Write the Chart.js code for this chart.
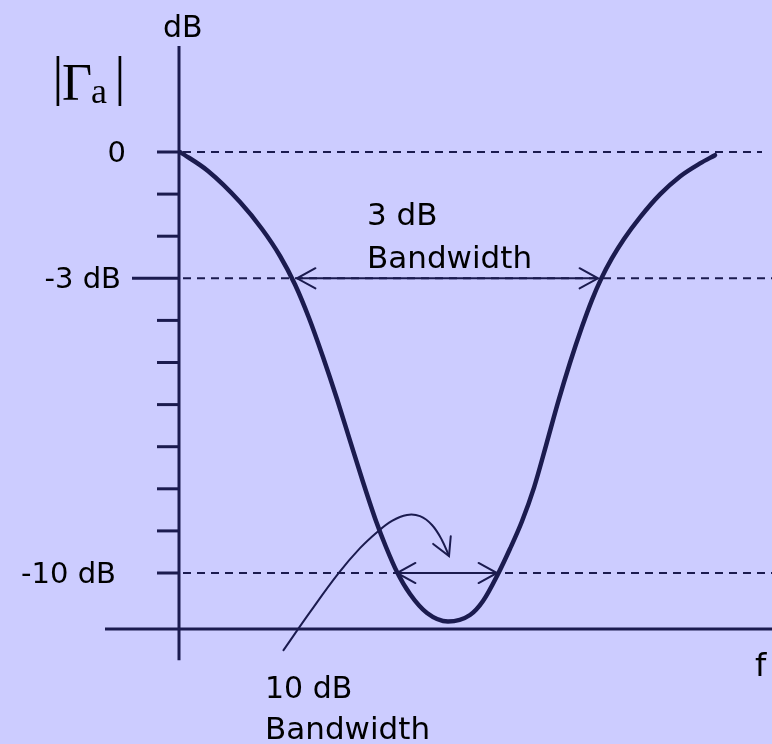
<!DOCTYPE html>
<html>
<head>
<meta charset="utf-8">
<script src="https://cdn.jsdelivr.net/npm/chart.js@4"></script>
<style>
  html, body { margin: 0; padding: 0; background: #ccccff; }
  #wrap { width: 772px; height: 744px; position: relative; }
</style>
</head>
<body>
<div id="wrap"><canvas id="c"></canvas></div>
<script>
// ---- data (frequency in arbitrary units, reflection in dB) ----
const curveF  = [1, 29, 61, 83, 101, 116, 130, 144, 158, 171, 184, 197, 207, 218, 231, 248, 269, 291, 304, 319, 331, 343, 355, 367, 379, 391, 403, 413, 422, 433, 445, 461, 481, 501, 521, 536];
const curveDb = [0, -0.451, -1.188, -1.829, -2.470, -3.147, -3.943, -4.869, -5.867, -6.855, -7.838, -8.765, -9.382, -9.976, -10.499, -10.950, -11.152, -10.998, -10.665, -10.024, -9.425, -8.770, -7.971, -6.974, -5.948, -5.007, -4.152, -3.511, -3.019, -2.523, -2.067, -1.553, -1.007, -0.580, -0.271, -0.076];

const tickDb = [0, -1, -2, -3, -4, -5, -6, -7, -8, -9, -10];
const tickLabelDb = [0, -3, -10];
const tickLabelText = ['0', '-3 dB', '-10 dB'];
const refLevelsDb = [0, -3, -10];
const refEndF = [583, 593, 593];

const bw3F = [118, 419];   // 3 dB bandwidth edges
const bw10F = [218, 318];  // 10 dB bandwidth edges

const pointerF  = [104, 131, 159, 181, 198, 213, 228, 241, 253, 263, 270];
const pointerDb = [-11.85, -10.93, -10.02, -9.41, -9.03, -8.76, -8.62, -8.65, -8.86, -9.22, -9.60];

const axisFloorDb = -11.33;

// ---- styling ----
const INK = '#1b1b4f';
const BG = '#ccccff';
const FONT = '"Comic Sans MS", "DejaVu Sans", sans-serif';
const SERIF = '"Liberation Serif", "DejaVu Serif", serif';

const pts = (xs, ys) => xs.map((x, i) => ({ x: x, y: ys[i] }));
const seg = (x1, y1, x2, y2, w, dash) => ({
  data: [{ x: x1, y: y1 }, { x: x2, y: y2 }],
  showLine: true, borderColor: INK, borderWidth: w, borderDash: dash || [],
  pointRadius: 0, tension: 0, borderCapStyle: 'butt'
});

const datasets = [];
// dashed reference levels
refLevelsDb.forEach((d, i) => datasets.push(seg(4, d, refEndF[i], d, 2, [8, 6])));
// axes
datasets.push(seg(-74, axisFloorDb, 593, axisFloorDb, 3));
datasets.push(seg(0, 2.52, 0, -12.07, 3));
// tick marks
tickDb.forEach(d => datasets.push(seg(d === -3 ? -47 : -22, d, 0, d, 3)));
// bandwidth arrows
datasets.push(seg(bw3F[0], -3, bw3F[1], -3, 2));
datasets.push(seg(bw10F[0], -10, bw10F[1], -10, 2));
// pointer curve
datasets.push({
  data: pts(pointerF, pointerDb), showLine: true, borderColor: INK, borderWidth: 2,
  pointRadius: 0, tension: 0.4
});
// main response curve
datasets.push({
  data: pts(curveF, curveDb), showLine: true, borderColor: INK, borderWidth: 4.5,
  pointRadius: 0, cubicInterpolationMode: 'monotone',
  borderCapStyle: 'round', borderJoinStyle: 'round'
});

function arrowHead(ctx, tx, ty, dirx, diry, len, ang) {
  const n = Math.hypot(dirx, diry);
  const ux = dirx / n, uy = diry / n;
  const a = Math.atan2(-uy, -ux);
  ctx.beginPath();
  ctx.moveTo(tx + len * Math.cos(a + ang), ty + len * Math.sin(a + ang));
  ctx.lineTo(tx, ty);
  ctx.lineTo(tx + len * Math.cos(a - ang), ty + len * Math.sin(a - ang));
  ctx.stroke();
}

const decor = {
  id: 'decor',
  beforeDraw(chart) {
    const ctx = chart.ctx;
    ctx.save();
    ctx.fillStyle = BG;
    ctx.fillRect(0, 0, chart.width, chart.height);
    ctx.restore();
  },
  afterDatasetsDraw(chart) {
    const ctx = chart.ctx;
    const xs = chart.scales.x, ys = chart.scales.y;
    ctx.save();
    ctx.strokeStyle = INK;
    ctx.lineWidth = 2;
    ctx.lineCap = 'round';
    // bandwidth arrowheads
    [[bw3F, -3], [bw10F, -10]].forEach(([f, d]) => {
      const y = ys.getPixelForValue(d);
      const x1 = xs.getPixelForValue(f[0]), x2 = xs.getPixelForValue(f[1]);
      arrowHead(ctx, x1, y, -1, 0, 21, 0.5);
      arrowHead(ctx, x2, y, 1, 0, 21, 0.5);
    });
    // pointer arrowhead
    const n = pointerF.length;
    const tx = xs.getPixelForValue(pointerF[n - 1]), ty = ys.getPixelForValue(pointerDb[n - 1]);
    const px = xs.getPixelForValue(pointerF[n - 2]), py = ys.getPixelForValue(pointerDb[n - 2]);
    arrowHead(ctx, tx, ty, tx - px, ty - py, 20, 0.5);

    // texts
    ctx.fillStyle = '#000';
    ctx.textBaseline = 'middle';
    ctx.textAlign = 'right';
    ctx.font = '29px ' + FONT;
    const labelRight = [126, 121, 116];
    tickLabelDb.forEach((d, i) => {
      ctx.fillText(tickLabelText[i], labelRight[i], ys.getPixelForValue(d) + 2);
    });
    ctx.textBaseline = 'alphabetic';
    ctx.textAlign = 'left';
    ctx.font = '30px ' + FONT;
    ctx.fillText('dB', 163, 37);
    ctx.font = '31px ' + FONT;
    ctx.fillText('3 dB', 367, 225);
    ctx.fillText('Bandwidth', 367, 268);
    ctx.font = '30px ' + FONT;
    ctx.fillText('10 dB', 265, 698);
    ctx.font = '31px ' + FONT;
    ctx.fillText('Bandwidth', 265, 739);
    ctx.font = '32px ' + FONT;
    ctx.fillText('f', 755, 676);
    // |Γa|
    ctx.textAlign = 'center';
    ctx.font = '54px ' + SERIF;
    ctx.fillText('|', 58, 94);
    ctx.fillText('|', 120, 94);
    ctx.font = '52px ' + SERIF;
    ctx.fillText('Γ', 77, 100);
    ctx.font = '36px ' + SERIF;
    ctx.fillText('a', 99, 103);
    ctx.restore();
  }
};

new Chart(document.getElementById('c'), {
  type: 'scatter',
  data: { datasets: datasets },
  options: {
    responsive: true,
    maintainAspectRatio: false,
    animation: false,
    layout: { padding: 0 },
    plugins: { legend: { display: false }, tooltip: { enabled: false } },
    scales: {
      x: { type: 'linear', min: -179, max: 593, display: false },
      y: { type: 'linear', min: -(744 - 152) / 42.1, max: 152 / 42.1, display: false }
    }
  },
  plugins: [decor]
});
</script>
</body>
</html>
